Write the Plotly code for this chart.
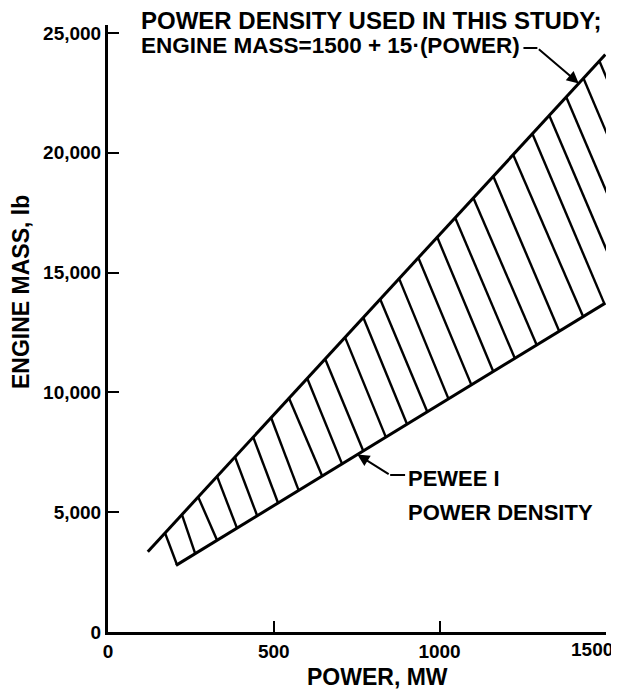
import numpy as np
import plotly.graph_objects as go

# ---- axis ticks ----
power_ticks = [0, 500, 1000, 1500]
power_tick_labels = ["0", "500", "1000", "1500"]
mass_ticks = [0, 5000, 10000, 15000, 20000, 25000]
mass_tick_labels = ["0", "5,000", "10,000", "15,000", "20,000", "25,000"]

# ---- boundary lines (MW, lb) ----
study_power = [120, 1500]          # power density used in this study
study_mass = [3350, 24100]
pewee_power = [205, 1500]          # Pewee I power density
pewee_mass = [2780, 13730]

# ---- hatching: each stroke runs from the study line down to the Pewee line ----
hatch_top_power = [172, 223, 272, 329, 383, 438, 492, 546, 601, 655, 715, 770, 821,
                   878, 936, 993, 1047, 1102, 1162, 1222, 1280, 1331, 1382, 1434, 1482]
hatch_bottom_power = [208, 263, 329, 389, 450, 513, 575, 646, 706, 770, 838, 902, 963,
                      1027, 1096, 1162, 1227, 1293, 1361, 1433, 1497, 1557, 1616, 1676, 1732]

FONT = "Liberation Sans, Arial, sans-serif"

su_m, su_b = np.polyfit(study_power, study_mass, 1)
pw_m, pw_b = np.polyfit(pewee_power, pewee_mass, 1)


def study_line(p):
    return su_m * p + su_b


def pewee_line(p):
    return pw_m * p + pw_b


hx, hy = [], []
for pt, pb in zip(hatch_top_power, hatch_bottom_power):
    hx += [pt, pb, None]
    hy += [study_line(pt), pewee_line(pb), None]

fig = go.Figure()
fig.add_trace(go.Scatter(x=hx, y=hy, mode="lines",
                         line=dict(color="black", width=2.4),
                         hoverinfo="skip"))
fig.add_trace(go.Scatter(x=study_power, y=study_mass, mode="lines",
                         line=dict(color="black", width=3),
                         name="Study"))
fig.add_trace(go.Scatter(x=pewee_power, y=pewee_mass, mode="lines",
                         line=dict(color="black", width=3),
                         name="Pewee I"))

tick_font = dict(family=FONT, size=19, color="black", weight="bold")
axis_common = dict(
    showgrid=False, zeroline=False, showline=True, linecolor="black", linewidth=3,
    ticks="inside", ticklen=11, tickwidth=2, tickcolor="black",
    tickfont=tick_font,
)

# the last power label sits at the plot's right edge; it is drawn shifted left
# (as in the original) so it stays inside the page
x_tick_text = power_tick_labels[:-1] + [""]

# the page body adds an 8 px offset, so the figure is 8 px smaller than the window
fig.update_layout(
    width=611, height=682,
    margin=dict(l=100, r=13, t=17, b=58, autoexpand=False),
    plot_bgcolor="white", paper_bgcolor="white",
    showlegend=False,
    xaxis=dict(range=[0, 1502], tickvals=power_ticks, ticktext=x_tick_text,
               **axis_common),
    yaxis=dict(range=[0, 25334], tickvals=mass_ticks, ticktext=mass_tick_labels,
               **axis_common),
)

fig.add_annotation(x=power_ticks[-1], xref="x", y=0, yref="paper",
                   xanchor="center", yanchor="top", xshift=-13, yshift=-6,
                   borderpad=0, showarrow=False,
                   text=power_tick_labels[-1], font=tick_font)

# leader for the study line
lead1_p, lead1_m = 1295, 24374
fig.add_shape(type="line", x0=1253, y0=lead1_m, x1=lead1_p, y1=lead1_m,
              xref="x", yref="y", line=dict(color="black", width=2))
fig.add_annotation(x=1420, y=study_line(1420), ax=lead1_p, ay=lead1_m,
                   axref="x", ayref="y", xref="x", yref="y", text="",
                   showarrow=True, arrowhead=2, arrowsize=1.2, arrowwidth=2,
                   arrowcolor="black", standoff=0)

# leader for the Pewee line
lead2_p, lead2_m = 851, 6553
fig.add_shape(type="line", x0=lead2_p, y0=lead2_m, x1=896, y1=lead2_m,
              xref="x", yref="y", line=dict(color="black", width=2))
fig.add_annotation(x=752, y=pewee_line(752), ax=lead2_p, ay=lead2_m,
                   axref="x", ayref="y", xref="x", yref="y", text="",
                   showarrow=True, arrowhead=2, arrowsize=1.2, arrowwidth=2,
                   arrowcolor="black", standoff=0)


def tfont(size):
    return dict(family=FONT, size=size, color="black", weight="bold")


def px_x(px):
    return (px - 108) / 498.0


def px_y(py):
    return (632 - py) / 607.0


fig.add_annotation(xref="paper", yref="paper", x=px_x(140), y=px_y(21),
                   xanchor="left", yanchor="middle", showarrow=False, borderpad=0,
                   text="POWER DENSITY USED IN THIS STUDY;", font=tfont(24))
fig.add_annotation(xref="paper", yref="paper", x=px_x(140), y=px_y(46),
                   xanchor="left", yanchor="middle", showarrow=False, borderpad=0,
                   text="ENGINE MASS=1500 + 15·(POWER)", font=tfont(22.5))
fig.add_annotation(xref="paper", yref="paper", x=px_x(406), y=px_y(478),
                   xanchor="left", yanchor="middle", showarrow=False,
                   text="PEWEE I", font=tfont(22))
fig.add_annotation(xref="paper", yref="paper", x=px_x(406), y=px_y(512),
                   xanchor="left", yanchor="middle", showarrow=False,
                   text="POWER DENSITY", font=tfont(22))
fig.add_annotation(xref="paper", yref="paper", x=px_x(21), y=px_y(292),
                   xanchor="center", yanchor="middle", textangle=-90, showarrow=False,
                   borderpad=0, text="ENGINE MASS, lb", font=tfont(23))
fig.add_annotation(xref="paper", yref="paper", x=px_x(377), y=px_y(677),
                   xanchor="center", yanchor="middle", showarrow=False,
                   text="POWER, MW", font=tfont(23))

fig.write_html("out.html")
